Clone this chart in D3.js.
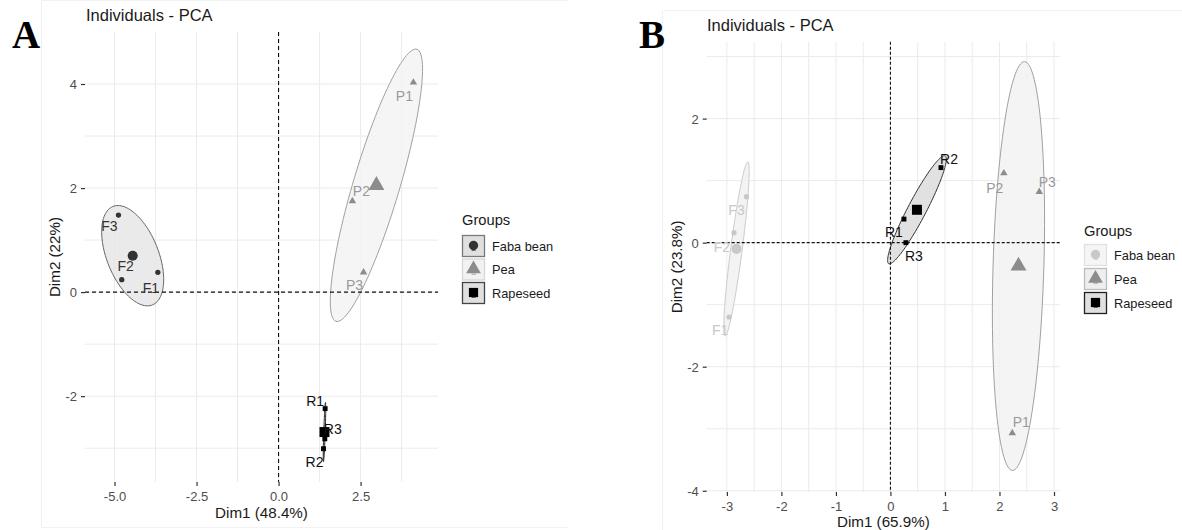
<!DOCTYPE html>
<html><head><meta charset="utf-8">
<script src="https://cdn.jsdelivr.net/npm/d3@7"></script>
<style>
html,body{margin:0;padding:0;background:#fff;}
svg{display:block;font-family:"Liberation Sans",Arial,sans-serif;}
</style></head>
<body>
<svg id="chart" width="1182" height="530"></svg>
<script>
// ---------- DATA ----------
const groups = ["Faba bean", "Pea", "Rapeseed"];
const sampleLabels = ["F1", "F2", "F3", "P1", "P2", "P3", "R1", "R2", "R3"];
const sampleGroup = [0, 0, 0, 1, 1, 1, 2, 2, 2];

// Panel A
const aDim1 = [-3.68, -4.78, -4.88, 4.11, 2.25, 2.59, 1.42, 1.37, 1.41];
const aDim2 = [0.38, 0.24, 1.48, 4.03, 1.75, 0.38, -2.24, -3.01, -2.82];
const aXTicks = [-5, -2.5, 0, 2.5];
const aXTickLabels = ["-5.0", "-2.5", "0.0", "2.5"];
const aYTicks = [-2, 0, 2, 4];
const aYTickLabels = ["-2", "0", "2", "4"];
const aXTitle = "Dim1 (48.4%)";
const aYTitle = "Dim2 (22%)";

// Panel B
const bDim1 = [-2.96, -2.87, -2.64, 2.235, 2.08, 2.73, 0.248, 0.927, 0.284];
const bDim2 = [-1.20, 0.16, 0.74, -3.07, 1.12, 0.82, 0.38, 1.21, 0.0];
const bXTicks = [-3, -2, -1, 0, 1, 2, 3];
const bXTickLabels = ["-3", "-2", "-1", "0", "1", "2", "3"];
const bYTicks = [-4, -2, 0, 2];
const bYTickLabels = ["-4", "-2", "0", "2"];
const bXTitle = "Dim1 (65.9%)";
const bYTitle = "Dim2 (23.8%)";

const plotTitle = "Individuals - PCA";
const legendTitle = "Groups";

// ---------- LAYOUT / STYLE ----------
const svg = d3.select("#chart");
const FONT = "'Liberation Sans', Arial, sans-serif";

const panels = [
  {
    letter: "A", letterX: 12, letterY: 48,
    frameLines: [[41.5, 0.5, 41.5, 527.5], [41.5, 0.5, 568, 0.5], [41.5, 527.5, 568, 527.5]],
    dim1: aDim1, dim2: aDim2,
    xDomain: [-5.9, 4.86], yDomain: [-3.65, 5.0],
    px: [85, 438], py: [482, 32],
    xTicks: aXTicks, xTickLabels: aXTickLabels, xMinor: [-3.75, -1.25, 1.25, 3.75],
    yTicks: aYTicks, yTickLabels: aYTickLabels, yMinor: [-3, -1, 1, 3],
    xTitle: aXTitle, yTitle: aYTitle,
    titleX: 86, titleY: 21,
    xTickY: 496, xTitleY: 518, yTitleX: 60,
    dash: "4,3",
    colors: ["#333333", "#8c8c8c", "#000000"],
    labelColors: ["#333333", "#9a9a9a", "#111111"],
    ellFill: ["#e6e6e6", "#f3f3f3", "#e3e3e3"],
    ellStroke: ["#666666", "#a0a0a0", "#222222"],
    keyFill: ["#e0e0e0", "#f2f2f2", "#e0e0e0"],
    keyStroke: ["#7a7a7a", "#d6d6d6", "#444444"],
    offsets: [[-7, 16], [4, -14], [-9, 11], [-9, 14], [9, -10], [-9, 13], [-10, -8], [-9, 13], [8, -10]],
    legendX: 462, legendTitleY: 220, legendY0: 246, legendStep: 23.5,
    k: 1.42
  },
  {
    letter: "B", letterX: 639, letterY: 48,
    frameLines: [[662.5, 10.5, 662.5, 530], [662.5, 10.5, 1182, 10.5]],
    dim1: bDim1, dim2: bDim2,
    xDomain: [-3.37, 3.11], yDomain: [-4.02, 3.24],
    px: [706.7, 1060], py: [492, 41.7],
    xTicks: bXTicks, xTickLabels: bXTickLabels, xMinor: [-2.5, -1.5, -0.5, 0.5, 1.5, 2.5],
    yTicks: bYTicks, yTickLabels: bYTickLabels, yMinor: [-3, -1, 1, 3],
    xTitle: bXTitle, yTitle: bYTitle,
    titleX: 707, titleY: 31,
    xTickY: 506, xTitleY: 527, yTitleX: 682,
    dash: "3,2",
    colors: ["#c8c8c8", "#8c8c8c", "#000000"],
    labelColors: ["#c8c8c8", "#9a9a9a", "#111111"],
    ellFill: ["#f1f1f1", "#f2f2f2", "#dcdcdc"],
    ellStroke: ["#cccccc", "#a0a0a0", "#333333"],
    keyFill: ["#f5f5f5", "#eeeeee", "#e0e0e0"],
    keyStroke: ["#e0e0e0", "#bdbdbd", "#222222"],
    offsets: [[-9, 13], [-12, 14], [-10, 13], [9, -11], [-9, 15], [8, -10], [-10, 13], [8, -9], [8, 13]],
    legendX: 1084, legendTitleY: 231, legendY0: 255, legendStep: 24,
    k: 1.41
  }
];

function drawPanel(p) {
  const g = svg.append("g");
  // faint frame of the figure image
  p.frameLines.forEach(l => {
    g.append("line").attr("x1", l[0]).attr("y1", l[1]).attr("x2", l[2]).attr("y2", l[3])
      .attr("stroke", "#f2f2f2").attr("stroke-width", 1);
  });

  const x = d3.scaleLinear().domain(p.xDomain).range(p.px);
  const y = d3.scaleLinear().domain(p.yDomain).range(p.py);

  // grid
  const grid = g.append("g");
  p.xMinor.concat(p.xTicks).forEach(v => {
    grid.append("line").attr("x1", x(v)).attr("x2", x(v)).attr("y1", p.py[1]).attr("y2", p.py[0])
      .attr("stroke", "#ebebeb").attr("stroke-width", 1);
  });
  p.yMinor.concat(p.yTicks).forEach(v => {
    grid.append("line").attr("y1", y(v)).attr("y2", y(v)).attr("x1", p.px[0]).attr("x2", p.px[1])
      .attr("stroke", "#ebebeb").attr("stroke-width", 1);
  });

  // axes (ticks only, no domain line)
  const xAxis = d3.axisBottom(x).tickValues(p.xTicks).tickSize(4).tickPadding(5)
    .tickFormat((d, i) => p.xTickLabels[i]);
  const gx = g.append("g").attr("transform", `translate(0,${p.py[0]})`).call(xAxis);
  gx.select(".domain").remove();
  gx.selectAll(".tick line").attr("stroke", "#333").attr("stroke-width", 1.2);
  gx.selectAll(".tick text").attr("fill", "#4d4d4d").attr("font-size", 13).attr("font-family", FONT)
    .attr("y", p.xTickY - p.py[0]).attr("dy", null)
    .attr("dominant-baseline", "central");

  const yAxis = d3.axisLeft(y).tickValues(p.yTicks).tickSize(4).tickPadding(4)
    .tickFormat((d, i) => p.yTickLabels[i]);
  const gy = g.append("g").attr("transform", `translate(${p.px[0]},0)`).call(yAxis);
  gy.select(".domain").remove();
  gy.selectAll(".tick line").attr("stroke", "#333").attr("stroke-width", 1.2);
  gy.selectAll(".tick text").attr("fill", "#4d4d4d").attr("font-size", 13).attr("font-family", FONT)
    .attr("dy", "0.35em");

  // titles
  g.append("text").attr("x", p.titleX).attr("y", p.titleY).text(plotTitle)
    .attr("font-size", 16.5).attr("fill", "#1a1a1a").attr("font-family", FONT);
  g.append("text").attr("x", (p.px[0] + p.px[1]) / 2).attr("y", p.xTitleY).text(p.xTitle)
    .attr("text-anchor", "middle").attr("font-size", 15.2).attr("fill", "#1a1a1a").attr("font-family", FONT);
  g.append("text").attr("transform", `translate(${p.yTitleX},${(p.py[0] + p.py[1]) / 2}) rotate(-90)`)
    .text(p.yTitle).attr("text-anchor", "middle").attr("font-size", 15.2).attr("fill", "#1a1a1a")
    .attr("font-family", FONT);

  // panel letter
  svg.append("text").attr("x", p.letterX).attr("y", p.letterY).text(p.letter)
    .attr("font-family", "'Liberation Serif','Times New Roman',serif").attr("font-weight", "bold")
    .attr("font-size", 39).attr("fill", "#000");

  // data
  const pts = sampleLabels.map((lab, i) => ({lab, g: sampleGroup[i], d1: p.dim1[i], d2: p.dim2[i], off: p.offsets[i]}));

  // ellipses from group covariance
  const ellG = g.append("g");
  const centroids = [];
  groups.forEach((gn, gi) => {
    const gp = pts.filter(d => d.g === gi);
    const n = gp.length;
    const mx = d3.mean(gp, d => d.d1), my = d3.mean(gp, d => d.d2);
    centroids.push({g: gi, d1: mx, d2: my});
    let sxx = 0, syy = 0, sxy = 0;
    gp.forEach(d => { sxx += (d.d1 - mx) ** 2; syy += (d.d2 - my) ** 2; sxy += (d.d1 - mx) * (d.d2 - my); });
    sxx /= (n - 1); syy /= (n - 1); sxy /= (n - 1);
    const tr = (sxx + syy) / 2, df = Math.sqrt(((sxx - syy) / 2) ** 2 + sxy * sxy);
    const l1 = tr + df, l2 = Math.max(tr - df, 1e-6);
    const th = Math.atan2(l1 - sxx, sxy || 1e-9);
    const v1 = [Math.cos(th), Math.sin(th)], v2 = [-Math.sin(th), Math.cos(th)];
    const ring = d3.range(0, 120).map(j => {
      const t = j / 120 * 2 * Math.PI;
      const a = p.k * Math.sqrt(l1) * Math.cos(t), b = p.k * Math.sqrt(l2) * Math.sin(t);
      return [x(mx + a * v1[0] + b * v2[0]), y(my + a * v1[1] + b * v2[1])];
    });
    ellG.append("path").attr("d", d3.line().curve(d3.curveLinearClosed)(ring))
      .attr("fill", p.ellFill[gi]).attr("fill-opacity", 0.85)
      .attr("stroke", p.ellStroke[gi]).attr("stroke-width", 1);
  });

  // zero lines
  g.append("line").attr("x1", x(0)).attr("x2", x(0)).attr("y1", p.py[1]).attr("y2", p.py[0])
    .attr("stroke", "#111").attr("stroke-width", 1.1).attr("stroke-dasharray", p.dash);
  g.append("line").attr("y1", y(0)).attr("y2", y(0)).attr("x1", p.px[0]).attr("x2", p.px[1])
    .attr("stroke", "#111").attr("stroke-width", 1.1).attr("stroke-dasharray", p.dash);

  const symTypes = [d3.symbolCircle, d3.symbolTriangle, d3.symbolSquare];
  const smallSize = [22, 24, 24], bigSize = [80, 110, 100];

  // points
  g.append("g").selectAll("path").data(pts).join("path")
    .attr("transform", d => `translate(${x(d.d1)},${y(d.d2)})`)
    .attr("d", d => d3.symbol(symTypes[d.g], smallSize[d.g])())
    .attr("fill", d => p.colors[d.g]);
  // centroids
  g.append("g").selectAll("path").data(centroids).join("path")
    .attr("transform", d => `translate(${x(d.d1)},${y(d.d2)})`)
    .attr("d", d => d3.symbol(symTypes[d.g], bigSize[d.g])())
    .attr("fill", d => p.colors[d.g]);
  // labels
  g.append("g").selectAll("text").data(pts).join("text")
    .attr("x", d => x(d.d1) + d.off[0]).attr("y", d => y(d.d2) + d.off[1])
    .attr("text-anchor", "middle").attr("dominant-baseline", "central")
    .attr("font-size", 14).attr("font-family", FONT)
    .attr("fill", d => p.labelColors[d.g]).text(d => d.lab);

  // legend
  const lg = g.append("g");
  lg.append("text").attr("x", p.legendX).attr("y", p.legendTitleY).attr("dominant-baseline", "central")
    .text(legendTitle).attr("font-size", 14.7).attr("fill", "#1a1a1a").attr("font-family", FONT);
  groups.forEach((gn, gi) => {
    const cy = p.legendY0 + gi * p.legendStep;
    lg.append("rect").attr("x", p.legendX + 0.5).attr("y", cy - 10.5).attr("width", 22).attr("height", 21)
      .attr("fill", p.keyFill[gi]).attr("stroke", p.keyStroke[gi]).attr("stroke-width", 1.3);
    lg.append("text").attr("x", p.legendX + 11.5).attr("y", cy + 5).attr("text-anchor", "middle")
      .attr("font-size", 8).attr("font-family", FONT).attr("fill", p.labelColors[gi]).text("a");
    lg.append("path").attr("transform", `translate(${p.legendX + 11.5},${cy - 0.5})`)
      .attr("d", d3.symbol(symTypes[gi], bigSize[gi] * 0.85)()).attr("fill", p.colors[gi]);
    lg.append("text").attr("x", p.legendX + 30).attr("y", cy).attr("dominant-baseline", "central")
      .text(gn).attr("font-size", 12.8).attr("fill", "#1a1a1a").attr("font-family", FONT);
  });
}

panels.forEach(drawPanel);
</script>
</body></html>
